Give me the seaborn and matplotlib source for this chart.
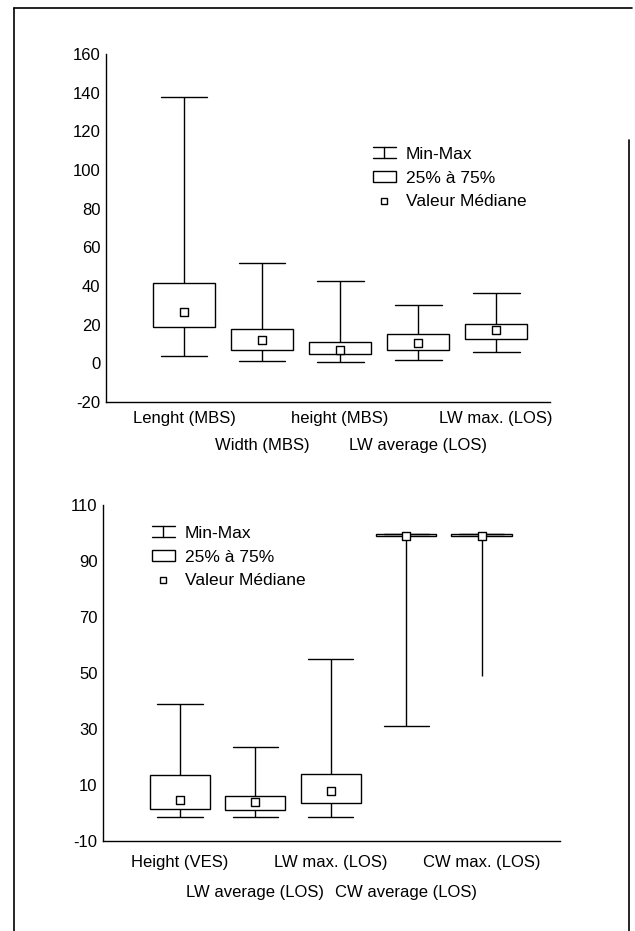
import numpy as np
import pandas as pd
import matplotlib
matplotlib.use("Agg")
import matplotlib.pyplot as plt
from matplotlib.lines import Line2D
from matplotlib.patches import Patch
from matplotlib.legend_handler import HandlerBase
import seaborn as sns

# upper panel
top_cats = ["Lenght (MBS)", "Width (MBS)", "height (MBS)", "LW average (LOS)", "LW max. (LOS)"]
top_min = [3.8, 1.4, 0.5, 1.9, 5.7]
top_q1 = [18.7, 6.7, 5.0, 6.9, 12.7]
top_med = [26.8, 12.0, 7.0, 10.4, 17.0]
top_q3 = [41.6, 17.8, 10.9, 15.3, 20.5]
top_max = [137.8, 51.7, 42.8, 30.3, 36.4]
top_yticks = [-20, 0, 20, 40, 60, 80, 100, 120, 140, 160]

# lower panel
bot_cats = ["Height (VES)", "LW average (LOS)", "LW max. (LOS)", "CW average (LOS)", "CW max. (LOS)"]
bot_min = [-1.5, -1.5, -1.5, 31.2, 49.0]
bot_q1 = [1.3, 0.9, 3.6, 98.8, 98.8]
bot_med = [4.5, 3.9, 7.7, 99.0, 99.0]
bot_q3 = [13.6, 6.1, 13.9, 99.5, 99.5]
bot_max = [38.9, 23.5, 55.0, 99.7, 99.7]
bot_yticks = [-10, 10, 30, 50, 70, 90, 110]

legend_labels = ["Min-Max", "25% à 75%", "Valeur Médiane"]


class MinMaxHandler(HandlerBase):
    # small I-shaped symbol for the min-max whisker
    def create_artists(self, legend, orig_handle, xdescent, ydescent,
                       width, height, fontsize, trans):
        x0, x1 = -xdescent, -xdescent + width
        y0, y1 = -ydescent, -ydescent + height
        xm = (x0 + x1) / 2
        kw = dict(color="black", lw=1.0, transform=trans)
        return [Line2D([x0, x1], [y1, y1], **kw),
                Line2D([x0, x1], [y0, y0], **kw),
                Line2D([xm, xm], [y0, y1], **kw)]


def long_table(cats, mins, q1s, meds, q3s, maxs):
    # five points per category -> quartiles and extremes come out exactly
    rows = []
    for c, a, b, m, d, e in zip(cats, mins, q1s, meds, q3s, maxs):
        for v in (a, b, m, d, e):
            rows.append({"cat": c, "val": v})
    return pd.DataFrame(rows)


def draw_panel(ax, cats, mins, q1s, meds, q3s, maxs, yticks, xlim, pads):
    df = long_table(cats, mins, q1s, meds, q3s, maxs)
    sns.boxplot(data=df, x="cat", y="val", order=cats, whis=(0, 100),
                width=0.8, color="white", linecolor="black", linewidth=1.0,
                fliersize=0, medianprops={"visible": False}, ax=ax)
    # widen the caps a bit (seaborn draws them at half the box width)
    for ln in ax.lines:
        xd = np.asarray(ln.get_xdata(), dtype=float)
        yd = np.asarray(ln.get_ydata(), dtype=float)
        if len(xd) == 2 and xd[0] != xd[1] and yd[0] == yd[1]:
            xm = xd.mean()
            ln.set_xdata([xm - 0.3, xm + 0.3])
    sns.scatterplot(x=cats, y=meds, marker="s", s=30, color="white",
                    edgecolor="black", linewidth=1.0, zorder=5, ax=ax)
    ax.set_xlim(*xlim)
    ax.set_ylim(yticks[0], yticks[-1])
    ax.set_yticks(yticks)
    ax.set_yticklabels([str(t) for t in yticks])
    # staggered category labels: even ones on the first row, odd ones below
    ax.set_xticks(range(0, len(cats), 2), cats[0::2])
    ax.set_xticks(range(1, len(cats), 2), cats[1::2], minor=True)
    ax.tick_params(axis="x", which="major", length=0, pad=pads[0], labelsize=12)
    ax.tick_params(axis="x", which="minor", length=0, pad=pads[1], labelsize=12)
    ax.tick_params(axis="y", direction="in", length=8, width=1, labelsize=12, pad=4)
    ax.set_xlabel("")
    ax.set_ylabel("")
    for s in ["top", "right"]:
        ax.spines[s].set_visible(False)
    for s in ["left", "bottom"]:
        ax.spines[s].set_linewidth(1.0)
        ax.spines[s].set_color("black")


def add_legend(ax, fig, x, y):
    handles = [Line2D([], [], color="black"),
               Patch(facecolor="white", edgecolor="black", linewidth=1.0),
               Line2D([], [], marker="s", linestyle="none", markersize=4.5,
                      markerfacecolor="white", markeredgecolor="black")]
    ax.legend(handles, legend_labels, loc="upper left",
              bbox_to_anchor=(x / 635, 1 - y / 931), bbox_transform=fig.transFigure,
              frameon=False, fontsize=12.5, handlelength=1.3, handleheight=0.6,
              handletextpad=0.6, labelspacing=0.5, borderpad=0, borderaxespad=0,
              handler_map={handles[0]: MinMaxHandler()})


sns.set_style("white")
plt.rcParams["font.family"] = ["Liberation Sans", "DejaVu Sans"]
plt.rcParams["axes.unicode_minus"] = False
plt.rcParams["text.color"] = "black"
plt.rcParams["xtick.color"] = "black"
plt.rcParams["ytick.color"] = "black"
plt.rcParams["axes.labelcolor"] = "black"

fig = plt.figure(figsize=(6.35, 9.31), dpi=100)

ax1 = fig.add_axes([106 / 635, 1 - 402 / 931, (550 - 106) / 635, (402 - 54) / 931])
draw_panel(ax1, top_cats, top_min, top_q1, top_med, top_q3, top_max,
           top_yticks, (-1.0, 4.69), pads=(6.5, 26))
add_legend(ax1, fig, 373, 147)

ax2 = fig.add_axes([103 / 635, 1 - 841 / 931, (560 - 103) / 635, (841 - 505) / 931])
draw_panel(ax2, bot_cats, bot_min, bot_q1, bot_med, bot_q3, bot_max,
           bot_yticks, (-1.02, 5.04), pads=(10, 32))
add_legend(ax2, fig, 152, 526)

# the lowest cap of "CW max. (LOS)" is not drawn in the original
for ln in ax2.lines:
    yd = np.asarray(ln.get_ydata(), dtype=float)
    xd = np.asarray(ln.get_xdata(), dtype=float)
    if len(yd) == 2 and np.allclose(yd, bot_min[4]) and xd[0] != xd[1]:
        ln.set_visible(False)

# page frame of the scanned figure
fig.add_artist(Line2D([14 / 635, 632 / 635], [1 - 8 / 931, 1 - 8 / 931],
                      transform=fig.transFigure, color="black", lw=1.2))
fig.add_artist(Line2D([14 / 635, 14 / 635], [0, 1 - 8 / 931],
                      transform=fig.transFigure, color="black", lw=1.2))
fig.add_artist(Line2D([629 / 635, 629 / 635], [0, 1 - 140 / 931],
                      transform=fig.transFigure, color="black", lw=1.2))

fig.savefig("out.png", dpi=100)
